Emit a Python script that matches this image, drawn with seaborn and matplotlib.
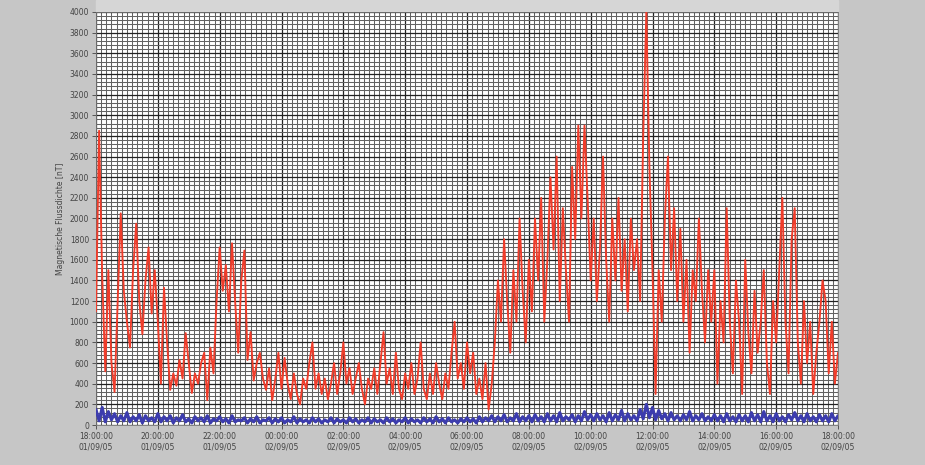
import numpy as np
import pandas as pd
import matplotlib
matplotlib.use("Agg")
import matplotlib.pyplot as plt
import matplotlib.dates as mdates
from matplotlib.ticker import MultipleLocator
import seaborn as sns

# ---- data ----
start_time = "2005-09-01 18:00:00"
end_time = "2005-09-02 18:00:00"

# red series, one value every 6 minutes (nT)
red_values = [
    1100, 2850, 1450, 520, 1500, 600, 320, 1200, 2050, 1300,
    1000, 750, 1500, 1950, 1200, 880, 1400, 1720, 1080, 1500,
    1000, 400, 1330, 800, 340, 500, 380, 630, 450, 890,
    600, 310, 500, 400, 600, 700, 240, 750, 500, 1200,
    1720, 1300, 1550, 1100, 1760, 1200, 700, 1400, 1690, 630,
    900, 430, 600, 700, 450, 340, 550, 240, 450, 700,
    350, 650, 400, 250, 500, 300, 200, 450, 350, 600,
    800, 350, 500, 300, 450, 250, 400, 600, 300, 500,
    800, 400, 550, 300, 450, 600, 350, 200, 450, 350,
    550, 300, 600, 900, 400, 550, 300, 700, 350, 250,
    500, 350, 600, 300, 450, 800, 350, 250, 500, 300,
    600, 400, 250, 500, 350, 700, 1000, 450, 600, 350,
    800, 500, 700, 300, 450, 250, 600, 150, 400, 800,
    1400, 1000, 1800, 1200, 700, 1500, 1000, 2000, 1300, 800,
    1600, 1100, 2000, 1400, 2200, 1000, 1600, 2400, 1700, 2600,
    1200, 2100, 1500, 1000, 2500, 1800, 2900, 2000, 2900, 2200,
    1400, 2000, 1200, 1700, 2600, 1600, 1000, 2000, 1400, 2200,
    1300, 1800, 1100, 2000, 1500, 1800, 1200, 2800, 4000, 2500,
    1500, 300, 1500, 1000, 2000, 2600, 1500, 2100, 1200, 1900,
    1000, 1600, 700, 1500, 1200, 2000, 1300, 800, 1500, 1000,
    1500, 400, 1200, 800, 2100, 1000, 500, 1400, 1000, 300,
    1600, 900, 500, 1300, 700, 1000, 1500, 600, 300, 1200,
    800, 1500, 2200, 1000, 500, 1800, 2100, 800, 400, 1200,
    600, 1000, 300, 700, 1000, 1400, 1200, 500, 1000, 400,
    700,
]

# blue series, one value every 6 minutes (nT)
blue_values = [
    150, 40, 170, 30, 130, 50, 110, 30, 90, 40, 120, 30, 80, 40, 100, 20, 90, 40, 70, 30,
    110, 30, 80, 40, 90, 20, 70, 40, 100, 30, 60, 20, 80, 40, 70, 30, 90, 20, 60, 40,
    80, 30, 60, 20, 90, 30, 50, 40, 70, 20, 60, 30, 80, 20, 50, 40, 70, 20, 60, 30,
    70, 20, 50, 30, 80, 20, 60, 30, 50, 20, 70, 30, 60, 20, 50, 30, 70, 20, 60, 30,
    50, 20, 70, 30, 60, 20, 50, 30, 70, 20, 60, 30, 50, 20, 70, 30, 60, 20, 50, 30,
    70, 20, 60, 30, 50, 20, 70, 30, 60, 20, 80, 30, 60, 20, 70, 30, 50, 20, 60, 30,
    70, 30, 60, 20, 80, 30, 70, 40, 90, 30, 80, 40, 100, 30, 70, 40, 110, 30, 80, 40,
    90, 30, 100, 40, 80, 30, 110, 40, 90, 30, 120, 40, 80, 50, 100, 30, 90, 40, 130, 50,
    100, 40, 110, 50, 90, 30, 120, 40, 100, 50, 140, 40, 110, 50, 90, 40, 150, 60, 200, 70,
    170, 50, 140, 60, 110, 40, 120, 50, 90, 40, 100, 50, 130, 40, 90, 50, 110, 40, 80, 40,
    100, 40, 90, 30, 110, 40, 80, 30, 100, 40, 90, 30, 120, 40, 100, 30, 130, 40, 90, 30,
    110, 40, 80, 30, 100, 50, 120, 40, 90, 30, 110, 40, 80, 30, 100, 40, 90, 30, 110, 40,
    90,
]

y_label = "Magnetische Flussdichte [nT]"

red_df = pd.DataFrame({
    "time": pd.date_range(start_time, end_time, periods=len(red_values)),
    "value": red_values,
})
blue_df = pd.DataFrame({
    "time": pd.date_range(start_time, end_time, periods=len(blue_values)),
    "value": blue_values,
})

sns.set_style("white")
plt.rcParams["font.family"] = ["DejaVu Sans"]

fig = plt.figure(figsize=(9.25, 4.65), dpi=100)
fig.patch.set_facecolor("#c6c6c6")
ax = fig.add_axes([96 / 925, 1 - 425 / 465, (838 - 96) / 925, (425 - 12) / 465])
ax.set_facecolor("white")

# light strip above the plot
fig.add_artist(plt.Rectangle((96 / 925, 1 - 11 / 465), (838 - 96) / 925, 11 / 465,
                             transform=fig.transFigure, color="#d6d6d6", zorder=0))

sns.lineplot(data=red_df, x="time", y="value", ax=ax, color="#f03c2a",
             linewidth=1.35, zorder=3)
sns.lineplot(data=blue_df, x="time", y="value", ax=ax, color="#3c3cae",
             linewidth=2.2, zorder=4)

ax.set_xlim(pd.Timestamp(start_time), pd.Timestamp(end_time))
ax.set_ylim(0, 4000)

ax.yaxis.set_major_locator(MultipleLocator(200))
ax.yaxis.set_minor_locator(MultipleLocator(40))
ax.xaxis.set_major_locator(mdates.HourLocator(interval=2))
ax.xaxis.set_minor_locator(mdates.MinuteLocator(byminute=[0, 10, 20, 30, 40, 50]))
ax.xaxis.set_major_formatter(mdates.DateFormatter("%H:%M:%S\n%d/%m/%y"))

ax.grid(which="minor", color="#626262", linewidth=0.75)
ax.grid(which="major", color="#222222", linewidth=0.9)
ax.set_axisbelow(True)

ax.tick_params(axis="both", which="major", labelsize=5.5, length=3, width=0.6,
               direction="out", colors="#444444", labelcolor="#444444", pad=2,
               bottom=True, left=True)
ax.tick_params(axis="both", which="minor", length=0)
for lbl in ax.get_xticklabels():
    lbl.set_horizontalalignment("center")

ax.set_xlabel("")
ax.set_ylabel(y_label, fontsize=5.5, color="#444444", labelpad=3)

for s in ax.spines.values():
    s.set_color("#777777")
    s.set_linewidth(0.6)

fig.savefig("out.png", dpi=100, facecolor=fig.get_facecolor())
